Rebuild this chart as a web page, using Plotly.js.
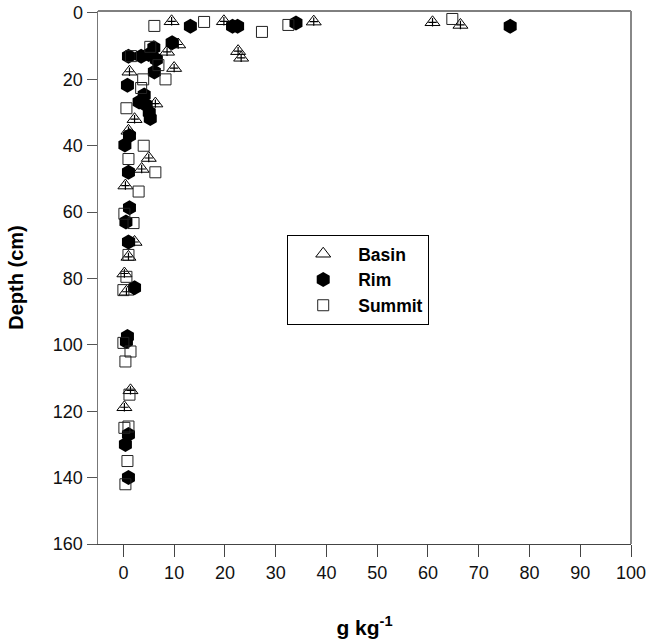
<!DOCTYPE html>
<html>
<head>
<meta charset="utf-8">
<script src="https://cdn.plot.ly/plotly-3.0.1.min.js"></script>
<style>html,body{margin:0;padding:0;background:#fff;}#chart{width:649px;height:643px;}</style>
</head>
<body>
<div id="chart"></div>
<script>
// Basin (triangles with plus)
const basinX = [9.5, 19.8, 37.5, 60.9, 66.4, 10.8, 8.6, 22.6, 23.2, 10.0, 1.2, 6.3, 2.2, 1.0, 5.0, 3.6, 0.4, 2.2, 1.0, 0.2, 0.6, 1.4, 0.2];
const basinY = [2.5, 2.5, 2.6, 2.8, 3.6, 9.5, 11.7, 11.5, 13.5, 16.6, 17.7, 27.3, 32.0, 35.5, 43.7, 47.0, 52.0, 69.0, 73.5, 78.5, 84.0, 113.7, 118.8];
// Rim (filled hexagons)
const rimX = [13.2, 21.5, 22.5, 34.0, 76.2, 9.6, 6.0, 5.0, 6.5, 3.5, 1.0, 6.1, 0.8, 4.1, 3.1, 4.5, 5.1, 5.3, 1.2, 0.3, 1.0, 1.2, 0.5, 1.0, 2.2, 0.8, 0.6, 1.0, 0.4, 1.0];
const rimY = [4.0, 4.0, 4.0, 3.0, 4.0, 9.0, 10.5, 12.5, 14.0, 13.0, 13.0, 17.8, 21.8, 24.7, 26.8, 27.7, 30.0, 31.8, 37.0, 39.8, 48.0, 58.7, 63.0, 69.0, 82.8, 97.5, 99.0, 127.0, 130.0, 140.0];
// Summit (open squares)
const summitX = [6.1, 15.9, 27.3, 32.5, 64.8, 5.3, 1.5, 6.9, 8.3, 3.9, 3.5, 0.6, 4.0, 1.0, 6.3, 3.0, 0.2, 2.0, 1.0, 0.6, 0.0, 0.0, 1.4, 0.4, 1.2, 0.2, 1.0, 0.8, 0.4];
const summitY = [3.9, 2.7, 5.7, 3.6, 1.8, 10.2, 13.0, 15.7, 20.0, 20.0, 22.6, 28.7, 40.0, 44.0, 48.0, 53.8, 60.5, 63.3, 72.9, 79.5, 83.5, 99.4, 102.0, 105.0, 115.0, 125.0, 124.6, 135.0, 142.0];

const xTicks = [0, 10, 20, 30, 40, 50, 60, 70, 80, 90, 100];
const yTicks = [0, 20, 40, 60, 80, 100, 120, 140, 160];

const traces = [
  {x: basinX, y: basinY, mode: 'markers', type: 'scatter', name: 'Basin', legendgroup: 'b',
   marker: {symbol: 'triangle-up', size: 13, color: 'rgba(255,255,255,0)', line: {color: '#000', width: 1}}},
  {x: basinX, y: basinY, mode: 'markers', type: 'scatter', name: 'Basin+', legendgroup: 'b', showlegend: false,
   marker: {symbol: 'cross-thin-open', size: 6, color: '#000', line: {color: '#000', width: 1.2}}},
  {x: rimX, y: rimY, mode: 'markers', type: 'scatter', name: 'Rim',
   marker: {symbol: 'hexagon', size: 15, color: '#000', line: {color: '#000', width: 0}}},
  {x: summitX, y: summitY, mode: 'markers', type: 'scatter', name: 'Summit',
   marker: {symbol: 'square-open', size: 11, color: '#222', line: {color: '#222', width: 1}}}
];

const layout = {
  width: 649, height: 643,
  margin: {l: 98, r: 18, t: 11, b: 99},
  paper_bgcolor: '#fff', plot_bgcolor: '#fff',
  font: {family: 'Liberation Sans, Arial, sans-serif', size: 18, color: '#111'},
  showlegend: true,
  legend: {x: 0.355, y: 0.58, xanchor: 'left', yanchor: 'top',
    bgcolor: '#fff', bordercolor: '#000', borderwidth: 1,
    font: {family: 'Liberation Sans, Arial, sans-serif', size: 17.5, color: '#000', weight: 'bold'},
    itemwidth: 60, tracegroupgap: 0},
  xaxis: {range: [-5, 100], tickvals: xTicks, ticktext: xTicks.map(String),
    showgrid: false, zeroline: false, showline: true, linecolor: '#444', linewidth: 1,
    ticks: 'outside', ticklen: 12, tickcolor: '#444', tickwidth: 1,
    tickfont: {size: 18, color: '#111'},
    title: {text: '<b>g kg<sup>-1</sup></b>', font: {size: 21, color: '#000'}, standoff: 38}},
  yaxis: {range: [160, -0.6], tickvals: yTicks, ticktext: yTicks.map(String),
    showgrid: false, zeroline: false, showline: true, linecolor: '#777', linewidth: 1.5,
    ticks: 'outside', ticklen: 10, tickcolor: '#555', tickwidth: 1,
    tickfont: {size: 18, color: '#111'},
    title: {text: '<b>Depth (cm)</b>', font: {size: 20, color: '#000'}, standoff: 24}},
  shapes: [
    {type: 'line', xref: 'paper', yref: 'paper', x0: 0, x1: 1, y0: 1, y1: 1, line: {color: '#000', width: 1}},
    {type: 'line', xref: 'paper', yref: 'paper', x0: 1, x1: 1, y0: 0, y1: 1, line: {color: '#888', width: 2}}
  ]
};

Plotly.newPlot('chart', traces, layout, {displayModeBar: false, staticPlot: true});
</script>
</body>
</html>
